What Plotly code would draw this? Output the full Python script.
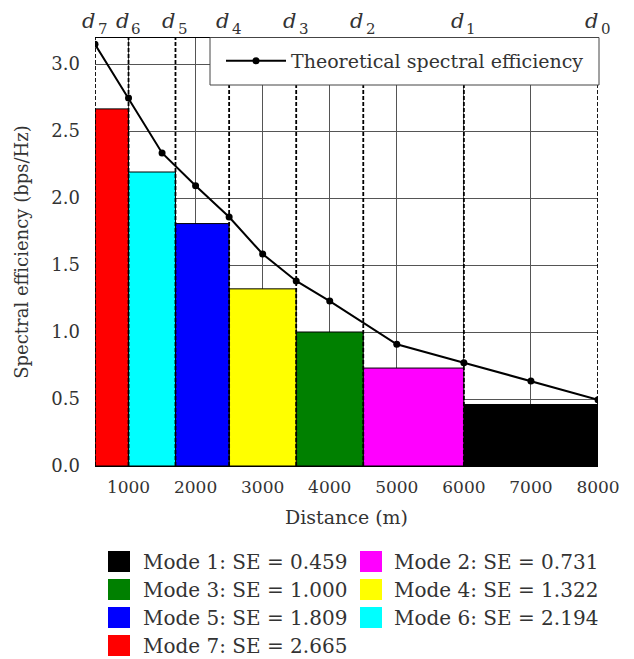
import plotly.graph_objects as go

# ---- data ----
distance_m = [500, 1000, 1500, 2000, 2500, 3000, 3500, 4000, 5000, 6000, 7000, 8000]
theoretical_se = [3.147, 2.746, 2.336, 2.092, 1.858, 1.582, 1.381, 1.231, 0.908, 0.771, 0.634, 0.495]

# switching distances d0..d7
d_index = ["0", "1", "2", "3", "4", "5", "6", "7"]
d_values = [8000, 6000, 4500, 3500, 2500, 1700, 1000, 500]

mode_names = ["Mode 1", "Mode 2", "Mode 3", "Mode 4", "Mode 5", "Mode 6", "Mode 7"]
mode_se = [0.459, 0.731, 1.000, 1.322, 1.809, 2.194, 2.665]
mode_colors = ["#000000", "#ff00ff", "#008000", "#ffff00", "#0000ff", "#00ffff", "#ff0000"]

x_ticks = [1000, 2000, 3000, 4000, 5000, 6000, 7000, 8000]
y_ticks = [0.0, 0.5, 1.0, 1.5, 2.0, 2.5, 3.0]

FONT = "DejaVu Serif"
TXT = "#333333"

OFF = 8  # page body margin
W, H = 634 - OFF, 659 - OFF
L, R, T = 95 - OFF, 36, 38 - OFF
B = H - (466 - OFF)
PW, PH = W - L - R, H - T - B


def px(x):
    return (x - OFF - L) / PW


def py(y):
    return (H - B - (y - OFF)) / PH


# mode k occupies [d_k, d_{k-1}]
bar_x, bar_w = [], []
for k in range(1, 8):
    lo, hi = d_values[k], d_values[k - 1]
    bar_x.append((lo + hi) / 2)
    bar_w.append(hi - lo)

fig = go.Figure()
fig.add_trace(go.Bar(
    x=bar_x, y=mode_se, width=bar_w,
    marker=dict(color=mode_colors, line=dict(color="#000000", width=1)),
    showlegend=False, hoverinfo="skip",
))
fig.add_trace(go.Scatter(
    x=distance_m, y=theoretical_se, mode="lines+markers",
    name="Theoretical spectral efficiency",
    line=dict(color="#000000", width=2),
    marker=dict(color="#000000", size=7),
))

shapes = []
for dv in d_values:
    shapes.append(dict(type="line", xref="x", yref="paper", x0=dv, x1=dv, y0=0, y1=1,
                       line=dict(color="#000000", width=1.8, dash="4px,2px"), layer="above"))
# inset legend box
shapes.append(dict(type="rect", xref="paper", yref="paper",
                   x0=px(210), x1=px(599), y0=py(85), y1=py(37.5),
                   fillcolor="white", line=dict(color="#444444", width=1), layer="above"))

annotations = []
for idx, dv in zip(d_index, d_values):
    annotations.append(dict(x=dv, y=1, xref="x", yref="paper", xanchor="right", yanchor="bottom",
                            xshift=1, yshift=4, text="d", showarrow=False, borderpad=0,
                            font=dict(family=FONT, size=21, color=TXT, style="italic")))
    annotations.append(dict(x=dv, y=1, xref="x", yref="paper", xanchor="left", yanchor="bottom",
                            xshift=1.5, yshift=-1, text=idx, showarrow=False, borderpad=0,
                            font=dict(family=FONT, size=15, color=TXT)))

# bottom legend (two columns, row-wise)
col_sq = [108, 360]
col_tx = [141, 392]
row_y0 = 561.5
row_dy = 28
for i, (name, se, col) in enumerate(zip(mode_names, mode_se, mode_colors)):
    r, c = divmod(i, 2)
    yc = row_y0 + r * row_dy
    shapes.append(dict(type="rect", xref="paper", yref="paper",
                       x0=px(col_sq[c]), x1=px(col_sq[c] + 22), y0=py(yc + 10.5), y1=py(yc - 10.5),
                       fillcolor=col, line=dict(width=0)))
    annotations.append(dict(x=px(col_tx[c]), y=py(yc), xref="paper", yref="paper",
                            xanchor="left", yanchor="middle", showarrow=False,
                            text="%s: SE = %.3f" % (name, se),
                            font=dict(family=FONT, size=20, color=TXT)))

fig.update_layout(
    width=W, height=H,
    margin=dict(l=L, r=R, t=T, b=B),
    paper_bgcolor="white", plot_bgcolor="white",
    font=dict(family=FONT, color=TXT),
    shapes=shapes, annotations=annotations,
    showlegend=True,
    legend=dict(x=px(589), y=py(61), xanchor="right", yanchor="middle",
                bgcolor="rgba(0,0,0,0)", borderwidth=0, itemwidth=60,
                font=dict(family=FONT, size=19, color=TXT)),
    xaxis=dict(range=[500, 8000], tickvals=x_ticks, ticktext=[str(v) for v in x_ticks],
               showgrid=True, gridcolor="#555555", gridwidth=1,
               zeroline=False, showline=True, linecolor="#000000", linewidth=1, mirror=True,
               ticks="", ticklabelstandoff=6,
               tickfont=dict(family=FONT, size=17, color=TXT),
               title=dict(text="Distance (m)", font=dict(family=FONT, size=19, color=TXT), standoff=14)),
    yaxis=dict(range=[0, 3.194], tickvals=y_ticks, ticktext=["%.1f" % v for v in y_ticks],
               showgrid=True, gridcolor="#555555", gridwidth=1,
               zeroline=True, zerolinecolor="#444444", zerolinewidth=1.5,
               showline=False, ticks="", ticklabelstandoff=14,
               tickfont=dict(family=FONT, size=18, color=TXT),
               title=dict(text="Spectral efficiency (bps/Hz)", font=dict(family=FONT, size=18, color=TXT), standoff=18)),
)

fig.write_html("out.html")
